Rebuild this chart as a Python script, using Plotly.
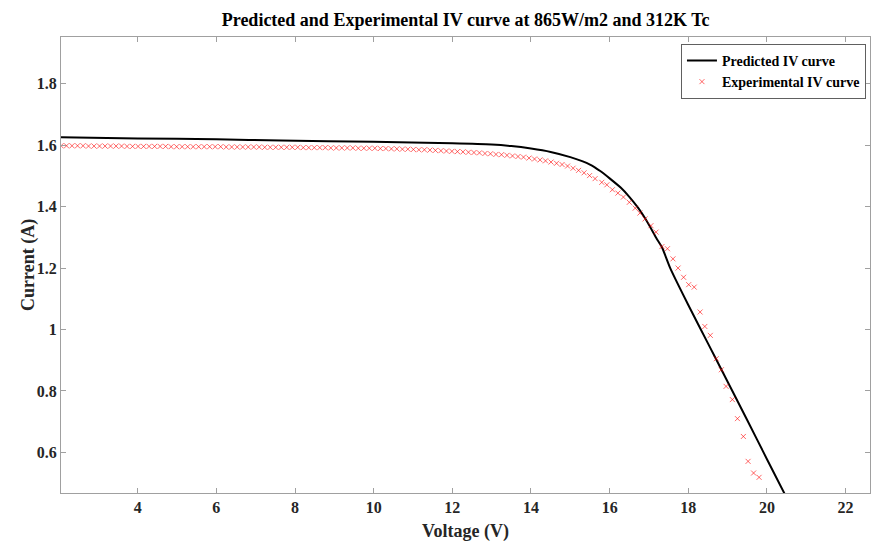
import plotly.graph_objects as go

# Predicted IV curve
pred_v = [2.05, 4.0, 6.0, 7.65, 10.0, 12.0, 13.0, 13.5, 14.0, 14.5, 15.0, 15.5, 15.77,
          16.0, 16.28, 16.5, 16.73, 16.9, 17.07, 17.2, 17.33, 17.54, 18.0, 18.5, 19.0,
          19.5, 20.0, 20.45]
pred_i = [1.626, 1.622, 1.619, 1.615, 1.611, 1.606, 1.602, 1.597, 1.589, 1.578, 1.561,
          1.537, 1.515, 1.492, 1.462, 1.432, 1.395, 1.362, 1.325, 1.295, 1.268, 1.200,
          1.080, 0.955, 0.830, 0.705, 0.578, 0.465]

# Experimental IV curve
exp_v = [2.05, 2.19, 2.33, 2.47, 2.61, 2.75, 2.89, 3.03, 3.17, 3.31, 3.45, 3.59, 3.73, 3.87, 4.01,
         4.15, 4.29, 4.43, 4.57, 4.71, 4.85, 4.99, 5.13, 5.27, 5.41, 5.55, 5.69, 5.83, 5.97, 6.11,
         6.25, 6.39, 6.53, 6.67, 6.81, 6.95, 7.09, 7.23, 7.37, 7.51, 7.65, 7.79, 7.93, 8.07,
         8.21, 8.35, 8.49, 8.63, 8.77, 8.91, 9.05, 9.19, 9.33, 9.47, 9.61, 9.75, 9.89, 10.03,
         10.17, 10.31, 10.45, 10.59, 10.73, 10.87, 11.01,
         11.15, 11.29, 11.43, 11.57, 11.71, 11.85, 11.99,
         12.13, 12.27, 12.41, 12.55, 12.69, 12.83, 12.97,
         13.11, 13.25, 13.39, 13.53, 13.67, 13.81, 13.95,
         14.09, 14.23, 14.37, 14.51, 14.65, 14.79, 14.93,
         15.07, 15.21, 15.35, 15.49, 15.63,
         15.80, 15.93, 16.07, 16.21, 16.35, 16.50, 16.65, 16.77, 16.90, 17.05, 17.18,
         17.33, 17.47, 17.61, 17.74, 17.88, 18.01, 18.15, 18.30, 18.42, 18.56, 18.71,
         18.84, 18.96, 19.12, 19.25, 19.40, 19.52, 19.66, 19.80]
exp_i = [1.598, 1.598, 1.598, 1.598, 1.598, 1.597, 1.597, 1.597, 1.597, 1.597, 1.597, 1.597, 1.596, 1.596, 1.596,
         1.596, 1.596, 1.596, 1.596, 1.596, 1.595, 1.595, 1.595, 1.595, 1.595, 1.595, 1.595, 1.595, 1.595, 1.595,
         1.594, 1.594, 1.594, 1.594, 1.594, 1.594, 1.594, 1.593, 1.593, 1.593, 1.593, 1.593, 1.593, 1.593,
         1.592, 1.592, 1.592, 1.592, 1.592, 1.591, 1.591, 1.591, 1.591, 1.591, 1.590, 1.590, 1.590, 1.590,
         1.589, 1.589, 1.588, 1.588, 1.587, 1.587, 1.586,
         1.585, 1.585, 1.584, 1.583, 1.582, 1.581, 1.580,
         1.579, 1.578, 1.577, 1.576, 1.575, 1.573, 1.572,
         1.570, 1.569, 1.567, 1.565, 1.563, 1.561, 1.558,
         1.555, 1.552, 1.549, 1.545, 1.541, 1.537, 1.532,
         1.525, 1.518, 1.510, 1.501, 1.491,
         1.479, 1.471, 1.455, 1.444, 1.431, 1.414, 1.395, 1.379, 1.360, 1.338, 1.317,
         1.270, 1.263, 1.230, 1.200, 1.170, 1.146, 1.138, 1.057, 1.010, 0.981, 0.905,
         0.869, 0.815, 0.772, 0.710, 0.652, 0.571, 0.533, 0.519]

x_ticks = [4, 6, 8, 10, 12, 14, 16, 18, 20, 22]
y_ticks = [0.6, 0.8, 1.0, 1.2, 1.4, 1.6, 1.8]

FONT = "Liberation Serif"

fig = go.Figure()
fig.add_trace(go.Scatter(
    x=pred_v, y=pred_i, mode="lines", name="<b>Predicted IV curve</b>",
    line=dict(color="black", width=2, shape="spline", smoothing=0.6),
))
fig.add_trace(go.Scatter(
    x=exp_v, y=exp_i, mode="markers", name="<b>Experimental IV curve</b>",
    marker=dict(symbol="x-thin", size=5, color="rgba(255,0,0,0.6)",
                line=dict(color="rgba(255,0,0,0.6)", width=1)),
))

axis_common = dict(
    showgrid=False, zeroline=False, showline=True, linecolor="#a0a0a0", linewidth=1,
    mirror="ticks", ticks="inside", ticklen=5, tickcolor="#a0a0a0", automargin=False,
    tickfont=dict(family=FONT, size=16, color="#262626"),
)

fig.update_layout(
    width=872, height=545,
    paper_bgcolor="white", plot_bgcolor="white",
    margin=dict(l=61, r=2, t=37, b=52, autoexpand=False),
    title=dict(text="<b>Predicted and Experimental IV curve at 865W/m2 and 312K Tc</b>",
               x=0.534, xanchor="center", y=0.976, yanchor="top",
               font=dict(family=FONT, size=18, color="black")),
    font=dict(family=FONT, color="#262626"),
    xaxis=dict(range=[2.05, 22.62], tickvals=x_ticks,
               ticktext=[f"<b>{t}</b>" for t in x_ticks],
               title=dict(text="<b>Voltage (V)</b>", font=dict(family=FONT, size=18, color="#262626"),
                          standoff=9),
               **axis_common),
    yaxis=dict(range=[0.468, 1.952], tickvals=y_ticks,
               ticktext=[f"<b>{t:g}</b>" for t in y_ticks],
               **axis_common),
    annotations=[dict(text="<b>Current (A)</b>", xref="paper", yref="paper",
                      x=-0.0408, y=0.5, xanchor="center", yanchor="middle",
                      textangle=-90, showarrow=False,
                      font=dict(family=FONT, size=18, color="#262626"))],
    legend=dict(x=0.995, y=0.985, xanchor="right", yanchor="top",
                bgcolor="white", bordercolor="#606060", borderwidth=1,
                font=dict(family=FONT, size=14, color="black"),
                tracegroupgap=0, itemwidth=30),
    showlegend=True,
)

fig.write_html("out.html", config={"displayModeBar": False},
               post_script="document.body.style.margin='0';document.body.style.overflow='hidden';")
